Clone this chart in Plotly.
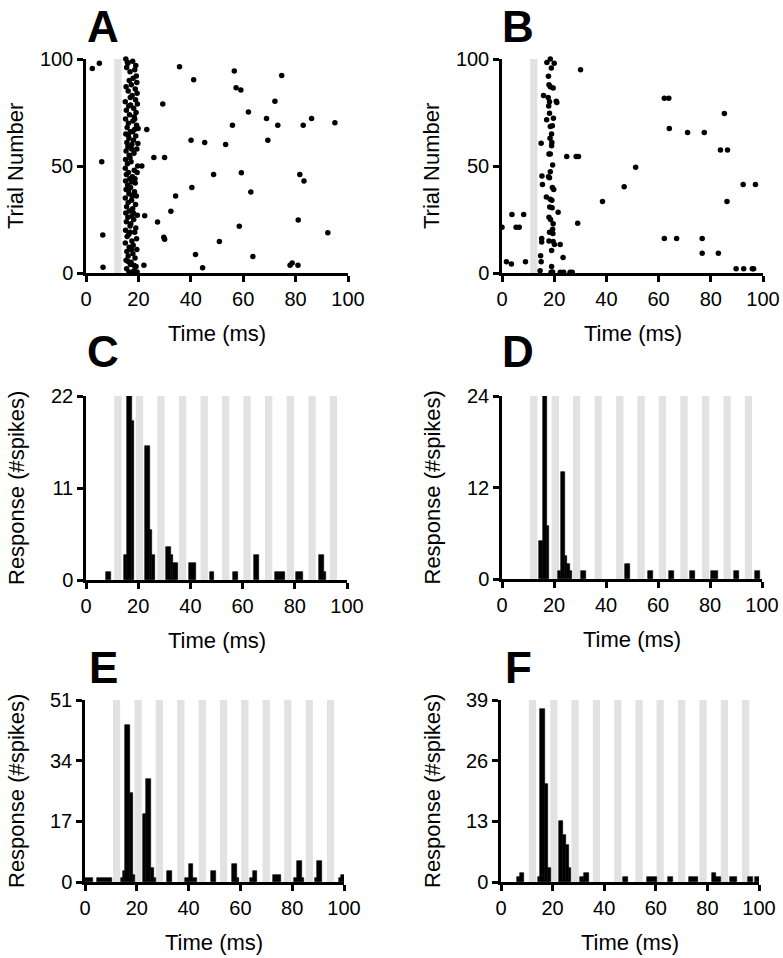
import plotly.graph_objects as go

W, H = 783, 958
FONT = "Liberation Sans, Arial, sans-serif"

# ---------------- data ----------------
stim_onsets = [10.8, 19.1, 27.3, 35.6, 43.9, 52.1, 60.3, 68.6, 76.9, 85.2, 93.4]
stim_width = 2.8

# Panel A raster (time ms, trial)
a_time = [2.4, 5.1, 6.0, 6.4, 6.5, 21.3, 23.2, 22.4, 22.1, 25.9, 27.3, 29.3, 30.0, 29.7, 30.0, 32.4,
          34.2, 35.7, 40.1, 40.4, 41.1, 41.8, 44.5, 45.3, 48.7, 50.9, 53.3, 55.9, 56.6, 57.3, 59.1,
          59.3, 58.5, 62.0, 62.9, 63.7, 68.9, 69.4, 72.1, 73.2, 74.7, 77.9, 78.7, 80.9, 81.0, 81.6,
          83.2, 82.9, 86.1, 92.3, 95.0,
          15.2, 16.0, 17.8, 19.0, 15.5, 18.6, 16.8, 19.2, 18.0, 19.4, 15.3, 18.8, 16.1, 19.5, 17.6,
          18.9, 15.0, 19.6, 16.3, 18.2, 15.4, 19.1, 16.6, 18.4, 15.1, 17.9, 16.2, 19.3, 15.7, 18.5,
          16.9, 15.2, 19.0, 16.4, 18.1, 15.6, 17.5, 16.0, 19.4, 15.3, 18.3, 16.5, 15.1, 17.2, 15.8,
          19.7, 15.0, 18.4, 16.2, 19.5, 15.4, 17.7, 16.7, 15.1, 18.8, 15.9, 17.0, 15.3, 18.5, 16.4,
          19.2, 15.0, 17.4, 16.1, 18.9, 15.5, 17.8, 16.6, 15.2, 19.6, 16.0, 18.2, 15.4, 17.1, 16.8,
          19.0, 15.1, 18.6, 16.3, 15.7, 19.3, 17.5, 15.0, 18.0, 16.5, 19.4, 15.6, 17.9, 16.1, 18.7,
          15.3, 17.2, 16.9, 19.1, 15.5, 18.3, 16.4, 17.6, 19.5, 15.8, 16.5, 17.3, 16.9, 17.0, 18.6,
          17.8, 16.1, 17.4, 16.8, 18.7, 17.3, 16.2, 17.6, 18.1, 17.5, 16.9, 17.3, 15.9, 18.4, 19.8, 19.9]
a_trial = [95.6, 98.0, 52.0, 17.7, 2.7, 50.0, 67.0, 26.7, 3.6, 54.0, 23.8, 79.0, 54.0, 16.7, 15.8, 28.9,
           36.0, 96.4, 62.0, 40.0, 90.3, 8.6, 2.5, 61.0, 46.0, 14.7, 60.0, 69.0, 94.4, 86.6, 85.5,
           46.9, 21.9, 75.2, 37.8, 7.7, 72.2, 62.0, 80.3, 69.0, 92.3, 3.6, 4.7, 3.6, 24.8, 46.0,
           43.0, 69.0, 72.2, 18.8, 70.2,
           100, 98, 99, 97, 96, 95, 94, 92, 91, 89, 87, 86, 85, 84, 83,
           81, 80, 79, 78, 77, 76, 75, 74, 73, 72, 71, 70, 69, 68, 67,
           66, 65, 64, 63, 62, 61, 60, 59, 58, 57, 56, 55, 53, 52, 51,
           50, 49, 48, 47, 47, 46, 45, 44, 43, 42, 41, 40, 39, 38, 37,
           36, 35, 34, 33, 32, 31, 30, 29, 28, 27, 26, 25, 24, 23, 22,
           21, 20, 19, 18, 17, 16, 15, 14, 13, 12, 11, 10, 9, 8, 7,
           6, 5, 4, 3, 2, 1, 0.5, 0, 0.5, 98.5, 90, 88, 82, 78.5, 72,
           66, 64.5, 58, 54, 44, 42.5, 38.5, 36, 28, 26.5, 19, 11, 5.5, 3.5, 60.5, 67.5]

# Panel B raster
b_time = [0.0, 1.7, 3.6, 3.8, 5.4, 6.6, 8.3, 9.0, 21.5, 22.3, 23.4, 21.0, 20.0, 24.8, 28.4, 29.3,
          29.0, 30.1, 22.3, 23.6, 26.1, 26.9, 38.5, 46.8, 51.2, 62.2, 63.9, 64.1, 62.2, 66.9, 71.1,
          77.5, 76.7, 76.7, 82.9, 83.7, 86.4, 85.2, 86.2, 89.7, 92.6, 95.9, 96.4, 92.4, 97.1,
          15.0, 15.3, 15.5, 15.2, 15.2, 14.8, 15.0, 14.6, 15.9, 17.2, 18.5, 18.9, 17.8, 18.0, 18.5,
          19.6, 17.7, 18.2, 17.9, 20.8, 17.1, 18.2, 19.7, 18.5, 19.3, 19.0, 18.4, 19.1, 19.0, 18.0,
          18.5, 19.4, 18.5, 17.8, 18.2, 19.3, 19.8, 18.5, 19.1, 18.3, 19.2, 18.0, 18.6, 19.6, 19.4,
          18.2, 19.5, 18.0, 19.6, 20.1, 19.0, 19.4, 18.8, 17.0, 19.0]
b_trial = [21.4, 5.3, 4.2, 27.3, 21.4, 21.4, 27.3, 5.3, 28.4, 13.3, 7.2, 79.7, 98.0, 54.4, 54.4, 54.4,
           23.3, 95.0, 0.3, 0.3, 0.3, 0.3, 33.4, 40.3, 49.4, 81.7, 81.7, 67.5, 16.1, 16.1, 65.6,
           65.6, 16.1, 9.2, 9.2, 57.5, 57.5, 74.5, 33.4, 2.0, 2.0, 2.0, 2.0, 41.4, 41.4,
           60.6, 45.3, 41.4, 16.1, 14.5, 8.1, 5.3, 1.1, 83.0, 98.4, 100, 95.8, 91.9, 88.0, 87.0,
           86.5, 82.0, 80.0, 78.0, 80.2, 71.6, 74.7, 72.3, 68.4, 68.8, 65.0, 63.0, 61.0, 59.5, 55.6,
           55.6, 50.5, 47.3, 45.0, 44.5, 40.0, 39.0, 34.5, 34.0, 30.8, 30.5, 26.0, 25.0, 23.0, 20.5,
           19.0, 18.5, 15.0, 14.7, 13.3, 3.0, 0.5, 0.3, 35.5, 10.5]

# Histograms: bin left edge (ms), bin right edge (ms), spike count
c_left = [7.7, 14.5, 15.6, 17.5, 22.6, 24.5, 25.4, 30.6, 32.5, 33.4, 39.4, 47.4, 56.4, 64.3, 72.3, 80.4, 89.2, 91.1]
c_right = [9.4, 15.6, 17.5, 18.5, 24.5, 25.4, 26.4, 32.5, 33.4, 35.3, 42.3, 49.2, 58.3, 66.2, 76.1, 83.2, 91.1, 92.1]
c_count = [1, 3, 22, 19, 16, 6, 3, 4, 3, 2, 2, 1, 1, 3, 1, 1, 3, 1]

d_left = [14.4, 15.8, 17.2, 21.4, 22.6, 24.2, 25.0, 26.0, 30.4, 47.2, 56.2, 64.2, 72.3, 80.3, 89.1, 97.2]
d_right = [15.8, 17.2, 18.2, 22.6, 24.2, 25.0, 26.0, 27.0, 32.2, 49.1, 58.1, 66.2, 74.1, 83.2, 91.0, 99.1]
d_count = [5, 24, 7, 1, 14, 3, 2, 1, 1, 2, 1, 1, 1, 1, 1, 1]

e_left = [0.0, 4.5, 13.9, 14.8, 15.6, 17.5, 18.5, 22.5, 23.6, 25.4, 26.5, 31.5, 38.7, 40.0, 41.8, 48.6,
          56.6, 58.5, 63.6, 64.7, 72.6, 80.7, 81.9, 83.8, 88.7, 89.7, 98.0, 99.0]
e_right = [3.2, 10.3, 14.8, 15.6, 17.5, 18.5, 19.4, 23.6, 25.4, 26.5, 27.6, 33.5, 40.0, 41.8, 43.4, 50.6,
           58.5, 59.5, 64.7, 66.6, 75.6, 81.9, 83.8, 84.6, 89.7, 91.6, 99.0, 100.6]
e_count = [1, 1, 1, 3, 44, 25, 2, 19, 29, 4, 1, 3, 1, 5, 1, 3, 5, 1, 1, 3, 2, 1, 6, 1, 1, 6, 1, 2]

f_left = [6.2, 7.2, 14.3, 15.3, 17.1, 18.3, 22.3, 24.2, 25.1, 26.2, 30.7, 32.3, 47.4, 56.7, 64.6, 72.7,
          81.7, 83.5, 88.7, 95.7, 98.5]
f_right = [7.2, 9.1, 15.3, 17.1, 18.3, 19.3, 24.2, 25.1, 26.2, 27.2, 32.3, 34.1, 49.4, 60.3, 66.5, 76.4,
           83.5, 85.4, 91.6, 97.6, 100.5]
f_count = [1, 2, 1, 37, 21, 3, 13, 10, 8, 3, 1, 2, 1, 1, 1, 1, 2, 1, 1, 1, 1]

x_ticks = [0, 20, 40, 60, 80, 100]
a_yticks = [0, 50, 100]
c_yticks = [0, 11, 22]
d_yticks = [0, 12, 24]
e_yticks = [0, 17, 34, 51]
f_yticks = [0, 13, 26, 39]

# ---------------- layout geometry (pixels) ----------------
panels = {
    # name: (left, right, top, bottom)
    "A": (86, 348, 59, 273),
    "B": (502, 763, 59, 273),
    "C": (86, 347, 396, 580),
    "D": (502, 762, 396, 579),
    "E": (85, 344, 700, 882),
    "F": (501, 759, 700, 882),
}


def dom_x(l, r):
    return [l / W, r / W]


def dom_y(t, b):
    return [1 - b / H, 1 - t / H]


fig = go.Figure()

axis_common = dict(
    showline=True, linecolor="black", linewidth=2.5,
    ticks="outside", ticklen=6, tickwidth=2.5, tickcolor="black",
    showgrid=False, zeroline=False, automargin=False,
    tickfont=dict(family=FONT, size=20, color="black"),
    fixedrange=True,
)

order = ["A", "B", "C", "D", "E", "F"]
yticks = {"A": a_yticks, "B": a_yticks, "C": c_yticks, "D": d_yticks, "E": e_yticks, "F": f_yticks}

for i, name in enumerate(order):
    idx = "" if i == 0 else str(i + 1)
    l, r, t, b = panels[name]
    yt = yticks[name]
    fig.update_layout(**{
        f"xaxis{idx}": dict(axis_common, domain=dom_x(l, r), range=[0, 100], tickvals=x_ticks,
                            anchor=f"y{idx}"),
        f"yaxis{idx}": dict(axis_common, domain=dom_y(t, b), range=[0, yt[-1]], tickvals=yt,
                            anchor=f"x{idx}"),
    })

# raster traces
for i, (tx, ty) in enumerate([(a_time, a_trial), (b_time, b_trial)]):
    idx = "" if i == 0 else str(i + 1)
    fig.add_trace(go.Scatter(x=tx, y=ty, mode="markers",
                             marker=dict(color="black", size=5.5),
                             cliponaxis=False, showlegend=False,
                             xaxis=f"x{idx}", yaxis=f"y{idx}"))

# histogram traces
hists = [(c_left, c_right, c_count), (d_left, d_right, d_count),
         (e_left, e_right, e_count), (f_left, f_right, f_count)]
for k, (lft, rgt, cnt) in enumerate(hists):
    idx = str(k + 3)
    xs = [(a + b) / 2 for a, b in zip(lft, rgt)]
    ws = [b - a for a, b in zip(lft, rgt)]
    fig.add_trace(go.Bar(x=xs, y=cnt, width=ws, marker=dict(color="black", line=dict(color="black", width=0.6)),
                         cliponaxis=False, showlegend=False,
                         xaxis=f"x{idx}", yaxis=f"y{idx}"))

# stimulus bands
shapes = []
for i, name in enumerate(order):
    idx = "" if i == 0 else str(i + 1)
    ymax = yticks[name][-1]
    onsets = stim_onsets[:1] if name in ("A", "B") else stim_onsets
    for s in onsets:
        shapes.append(dict(type="rect", xref=f"x{idx}", yref=f"y{idx}", x0=s, x1=s + stim_width,
                           y0=0, y1=ymax, fillcolor="#e2e2e2", line=dict(width=0), layer="below"))

annotations = []
# top-row letters anchored at the top edge of the page, others centred
letter_pos = {"A": (103, 0, "top"), "B": (518, 0, "top"),
              "C": (103, 352, "middle"), "D": (518, 352, "middle"),
              "E": (103, 667, "middle"), "F": (518, 667, "middle")}
for name, (x, y, ya) in letter_pos.items():
    annotations.append(dict(text=name, x=x / W, y=1 - y / H, xref="paper", yref="paper",
                            showarrow=False, xanchor="center", yanchor=ya,
                            font=dict(family=FONT, size=44, color="black", weight="bold")))

for name in order:
    l, r, t, b = panels[name]
    annotations.append(dict(text="Time (ms)", x=(l + r) / 2 / W, y=1 - (b + 60) / H,
                            xref="paper", yref="paper", showarrow=False,
                            xanchor="center", yanchor="middle",
                            font=dict(family=FONT, size=22, color="black")))
    ytitle = "Trial Number" if name in ("A", "B") else "Response (#spikes)"
    xt = 16 if name in ("A", "C", "E") else 432
    annotations.append(dict(text=ytitle, x=xt / W, y=1 - (t + b) / 2 / H,
                            xref="paper", yref="paper", showarrow=False, textangle=-90,
                            xanchor="center", yanchor="middle",
                            font=dict(family=FONT, size=22, color="black")))

fig.update_layout(
    template="none",
    width=W, height=H,
    margin=dict(l=0, r=0, t=0, b=0),
    paper_bgcolor="white", plot_bgcolor="white",
    shapes=shapes, annotations=annotations,
    bargap=0, showlegend=False,
)

fig.write_html("out.html", config={"displayModeBar": False},
               post_script="document.body.style.margin='0';document.body.style.padding='0';"
                           "document.documentElement.style.overflow='hidden';")
